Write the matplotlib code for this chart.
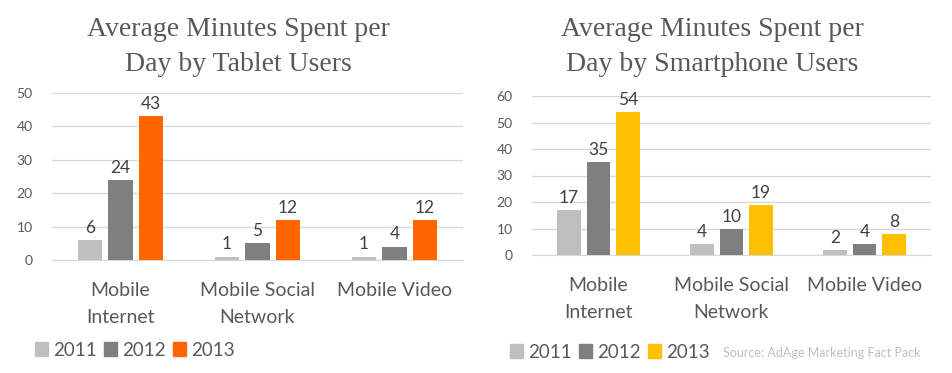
import matplotlib.pyplot as plt
from matplotlib.patches import Patch
import numpy as np

# ======================
# DATA
# ======================
categories = ['Mobile\nInternet', 'Mobile Social\nNetwork', 'Mobile Video']
years = ['2011', '2012', '2013']
tablet_2011 = [6, 1, 1]
tablet_2012 = [24, 5, 4]
tablet_2013 = [43, 12, 12]
phone_2011 = [17, 4, 2]
phone_2012 = [35, 10, 4]
phone_2013 = [54, 19, 8]

GREY_LIGHT = '#BFBFBF'
GREY_DARK = '#7F7F7F'
ORANGE = '#FF6600'
GOLD = '#FFC000'
TEXT = '#595959'

plt.rcParams['font.family'] = ['Lato', 'DejaVu Sans']

W, H = 953, 373
fig = plt.figure(figsize=(W / 100, H / 100), dpi=100)


def px_axes(x0, x1, ytop, ybot):
    return fig.add_axes([x0 / W, (H - ybot) / H, (x1 - x0) / W, (ybot - ytop) / H])


def draw_panel(ax, series, colors, ymax, title, title_y, leg_x, leg_y):
    x = np.arange(len(categories))
    step, width = 0.222, 0.178
    for i, (vals, col) in enumerate(zip(series, colors)):
        pos = x + (i - 1) * step
        bars = ax.bar(pos, vals, width=width, color=col, zorder=3)
        for b, v in zip(bars, vals):
            ax.text(b.get_x() + b.get_width() / 2, v + ymax * 0.025, str(v),
                    ha='center', va='bottom', fontsize=12.5, color='#404040')
    ax.set_xlim(-0.5, len(categories) - 0.5)
    ax.set_ylim(0, ymax)
    ax.set_yticks(np.arange(0, ymax + 1, 10))
    ax.yaxis.grid(True, color='#D9D9D9', linewidth=1, zorder=0)
    ax.set_axisbelow(True)
    for s in ['top', 'right', 'left']:
        ax.spines[s].set_visible(False)
    ax.spines['bottom'].set_color('#D9D9D9')
    ax.tick_params(axis='y', length=0, labelsize=10, labelcolor=TEXT, pad=14)
    ax.tick_params(axis='x', length=0, labelsize=14, labelcolor=TEXT, pad=16)
    ax.set_xticks(x)
    ax.set_xticklabels(categories, linespacing=1.7, va='top')
    fig.text((ax.get_position().x0 + ax.get_position().x1) / 2 - 0.02, title_y, title,
             ha='center', va='center', fontsize=20, color=TEXT,
             family='Liberation Serif', linespacing=1.5)
    handles = [Patch(color=c, label=y) for c, y in zip(colors, years)]
    fig.legend(handles=handles, loc='center left', bbox_to_anchor=(leg_x, leg_y),
               ncol=3, frameon=False, fontsize=13.5, labelcolor=TEXT,
               handlelength=0.7, handleheight=0.7, handletextpad=0.25,
               columnspacing=0.4, borderaxespad=0, borderpad=0)


ax1 = px_axes(52, 463, 93, 260)
draw_panel(ax1, [tablet_2011, tablet_2012, tablet_2013], [GREY_LIGHT, GREY_DARK, ORANGE],
           50, 'Average Minutes Spent per\nDay by Tablet Users', (H - 47) / H,
           35 / W, (H - 350) / H)

ax2 = px_axes(532, 931, 96, 255)
draw_panel(ax2, [phone_2011, phone_2012, phone_2013], [GREY_LIGHT, GREY_DARK, GOLD],
           60, 'Average Minutes Spent per\nDay by Smartphone Users', (H - 47) / H,
           510 / W, (H - 352) / H)

fig.text(723 / W, (H - 353) / H, 'Source: AdAge Marketing Fact Pack',
         ha='left', va='center', fontsize=9, color='#BFBFBF')

fig.savefig('out.png', dpi=100)
